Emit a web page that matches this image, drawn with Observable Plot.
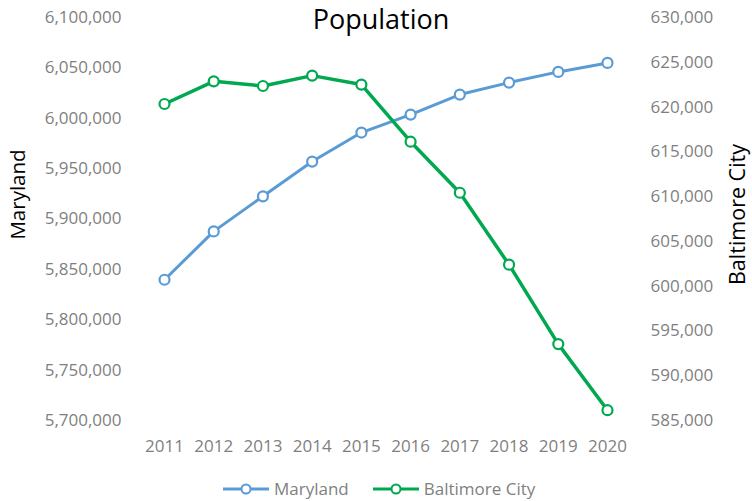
<!DOCTYPE html>
<html>
<head>
<meta charset="utf-8">
<script src="https://cdn.jsdelivr.net/npm/d3@7"></script>
<script src="https://cdn.jsdelivr.net/npm/@observablehq/plot@0.6"></script>
<style>
  html, body { margin: 0; padding: 0; background: white; }
  #wrap { position: relative; width: 752px; height: 501px; overflow: hidden; font-family: "Open Sans", sans-serif; }
  #legend { position: absolute; top: 477px; left: 223px; display: flex; align-items: center; font-size: 17px; color: #7f7f7f; }
  .item { display: flex; align-items: center; margin-right: 24px; }
  .item svg { margin-right: 5px; }
</style>
</head>
<body>
<div id="wrap">
  <div id="chart"></div>
  <div id="legend"></div>
</div>
<script>
const years = [2011, 2012, 2013, 2014, 2015, 2016, 2017, 2018, 2019, 2020];
const maryland = [5839700, 5887700, 5922500, 5957000, 5985800, 6003600, 6023500, 6035400, 6046000, 6054900];
const baltimore = [620340, 622870, 622350, 623510, 622510, 616130, 610430, 602400, 593530, 586150];
const seriesNames = ["Maryland", "Baltimore City"];
const seriesColors = ["#5b9bd5", "#00a84f"];
const leftTicks = d3.range(5700000, 6100001, 50000);
const rightTicks = d3.range(585000, 630001, 5000);
const leftDomain = [5700000, 6100000];
const rightDomain = [585000, 630000];
const titleText = "Population";

const toLeft = d3.scaleLinear().domain(rightDomain).range(leftDomain);
const fmt = d3.format(",");

const mdData = years.map((x, i) => ({x, y: maryland[i]}));
const bcData = years.map((x, i) => ({x, y: toLeft(baltimore[i])}));

const chart = Plot.plot({
  width: 752,
  height: 466,
  marginTop: 17,
  marginBottom: 46,
  marginLeft: 164,
  marginRight: 145,
  x: {domain: [years[0], years[years.length - 1]]},
  y: {domain: leftDomain},
  style: {fontFamily: "'Open Sans', sans-serif", fontSize: "17px", color: "#7f7f7f", background: "white"},
  marks: [
    Plot.axisX({ticks: years, tickFormat: d => String(d), tickSize: 0, tickPadding: 19, label: null}),
    Plot.axisY({ticks: leftTicks, tickFormat: fmt, tickSize: 0, tickPadding: 43, label: null}),
    Plot.axisY({anchor: "right", ticks: rightTicks.map(toLeft), tickFormat: d => fmt(Math.round(toLeft.invert(d))), tickSize: 0, tickPadding: 43, label: null}),
    Plot.line(mdData, {x: "x", y: "y", stroke: seriesColors[0], strokeWidth: 3}),
    Plot.line(bcData, {x: "x", y: "y", stroke: seriesColors[1], strokeWidth: 3.5}),
    Plot.dot(mdData, {x: "x", y: "y", r: 5, fill: "white", stroke: seriesColors[0], strokeWidth: 2.2}),
    Plot.dot(bcData, {x: "x", y: "y", r: 5, fill: "white", stroke: seriesColors[1], strokeWidth: 2.2}),
    Plot.text([titleText], {frameAnchor: "top", dx: -5, dy: 3, fontSize: 27, fill: "black", lineAnchor: "middle"}),
    Plot.text([seriesNames[0]], {frameAnchor: "left", textAnchor: "middle", dx: -146, dy: -24.5, rotate: -90, fontSize: 20.5, fill: "black"}),
    Plot.text([seriesNames[1]], {frameAnchor: "right", textAnchor: "middle", dx: 131, dy: -4.5, rotate: -90, fontSize: 21.5, fill: "black"})
  ]
});
document.getElementById("chart").appendChild(chart);

const legend = document.getElementById("legend");
seriesNames.forEach((name, i) => {
  const item = document.createElement("div");
  item.className = "item";
  item.innerHTML = `<svg width="46" height="14"><line x1="0" y1="7" x2="46" y2="7" stroke="${seriesColors[i]}" stroke-width="3"/><circle cx="23" cy="7" r="4.5" fill="white" stroke="${seriesColors[i]}" stroke-width="2"/></svg><span>${name}</span>`;
  legend.appendChild(item);
});
</script>
</body>
</html>
